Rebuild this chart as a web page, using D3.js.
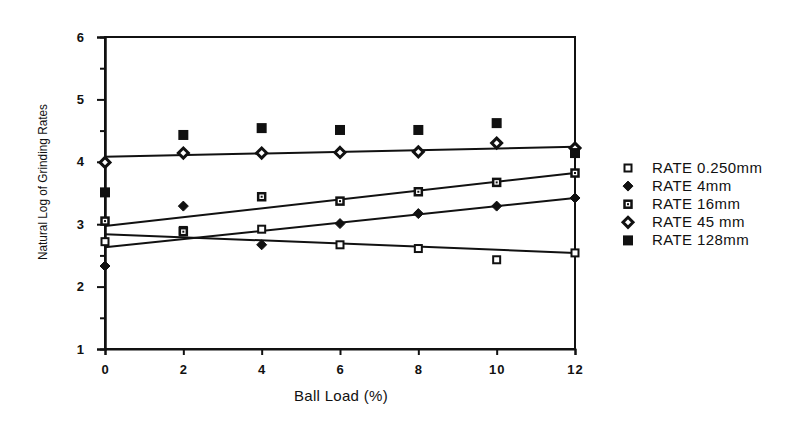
<!DOCTYPE html>
<html>
<head>
<meta charset="utf-8">
<script src="https://cdn.jsdelivr.net/npm/d3@7"></script>
<style>
  body { margin: 0; background: #fff; }
  svg { font-family: "Liberation Sans", Arial, sans-serif; }
  .tick text { font-weight: bold; font-size: 13px; fill: #111; }
</style>
</head>
<body>
<svg id="chart" width="795" height="423"></svg>
<script>
// ball load (%) at which rates were measured
const ballLoads = [0, 2, 4, 6, 8, 10, 12];

// natural log of grinding rates per size class
const rate025 = [2.72, 2.90, 2.92, 2.67, 2.61, 2.43, 2.54];
const rate4 = [2.33, 3.29, 2.67, 3.01, 3.17, 3.29, 3.42];
const rate16 = [3.05, 2.88, 3.44, 3.37, 3.52, 3.67, 3.82];
const rate45 = [3.99, 4.14, 4.14, 4.15, 4.16, 4.30, 4.22];
const rate128 = [3.51, 4.43, 4.54, 4.51, 4.51, 4.62, 4.14];

// fitted line values at ball load 0 and 12 (null = no line)
const fit025 = [2.84, 2.54];
const fit4 = [2.63, 3.42];
const fit16 = [2.97, 3.82];
const fit45 = [4.08, 4.24];
const fit128 = null;

const seriesNames = ['RATE 0.250mm', 'RATE 4mm', 'RATE 16mm', 'RATE 45 mm', 'RATE 128mm'];
const yTicks = [1, 2, 3, 4, 5, 6];
const yMinorTicks = [1.5, 2.5, 3.5, 4.5, 5.5];
const xTicks = [0, 2, 4, 6, 8, 10, 12];

const series = [
  { name: seriesNames[0], values: rate025, fit: fit025, marker: 'openSquare' },
  { name: seriesNames[1], values: rate4, fit: fit4, marker: 'filledDiamond' },
  { name: seriesNames[2], values: rate16, fit: fit16, marker: 'dotSquare' },
  { name: seriesNames[3], values: rate45, fit: fit45, marker: 'openDiamond' },
  { name: seriesNames[4], values: rate128, fit: fit128, marker: 'filledSquare' }
];

const svg = d3.select('#chart');

const plot = { left: 105, right: 575, top: 37, bottom: 349 };

const x = d3.scaleLinear().domain([0, 12]).range([plot.left, plot.right]);
const y = d3.scaleLinear().domain([1, 6]).range([plot.bottom, plot.top]);

const ink = '#111';

// frame
svg.append('rect')
  .attr('x', plot.left)
  .attr('y', plot.top)
  .attr('width', plot.right - plot.left)
  .attr('height', plot.bottom - plot.top)
  .attr('fill', 'none')
  .attr('stroke', ink)
  .attr('stroke-width', 2);

// y axis, major and minor ticks
svg.append('g')
  .attr('transform', `translate(${plot.left},0)`)
  .call(d3.axisLeft(y).tickValues(yTicks).tickSize(8).tickPadding(12).tickFormat(d3.format('d')));
svg.append('g')
  .attr('transform', `translate(${plot.left},0)`)
  .call(d3.axisLeft(y).tickValues(yMinorTicks).tickSize(5).tickFormat(''));

// x axis
svg.append('g')
  .attr('transform', `translate(0,${plot.bottom})`)
  .call(d3.axisBottom(x).tickValues(xTicks).tickSize(6).tickPadding(10).tickFormat(d3.format('d')));

svg.selectAll('.domain').attr('stroke', ink).attr('stroke-width', 2);
svg.selectAll('.tick line').attr('stroke', ink).attr('stroke-width', 2);
svg.selectAll('.tick text').attr('letter-spacing', 1);

// axis titles
svg.append('text')
  .attr('x', 341)
  .attr('y', 401)
  .attr('text-anchor', 'middle')
  .attr('font-size', 15)
  .attr('letter-spacing', 0.3)
  .attr('fill', ink)
  .text('Ball Load (%)');

svg.append('text')
  .attr('transform', 'translate(47,182) rotate(-90)')
  .attr('text-anchor', 'middle')
  .attr('font-size', 12)
  .attr('textLength', 156)
  .attr('lengthAdjust', 'spacingAndGlyphs')
  .attr('fill', ink)
  .text('Natural Log of Grinding Rates');

// draws one marker centred at (cx, cy)
function drawMarker(g, type, cx, cy) {
  if (type === 'openSquare' || type === 'dotSquare' || type === 'filledSquare') {
    const size = type === 'filledSquare' ? 8 : 7;
    g.append('rect')
      .attr('x', cx - size / 2)
      .attr('y', cy - size / 2)
      .attr('width', size)
      .attr('height', size)
      .attr('fill', type === 'filledSquare' ? ink : '#fff')
      .attr('stroke', ink)
      .attr('stroke-width', type === 'dotSquare' ? 2.5 : 2);
    if (type === 'dotSquare') {
      g.append('rect')
        .attr('x', cx - 1)
        .attr('y', cy - 1)
        .attr('width', 2)
        .attr('height', 2)
        .attr('fill', ink);
    }
  } else {
    const r = 5;
    g.append('path')
      .attr('d', `M${cx},${cy - r}L${cx + r},${cy}L${cx},${cy + r}L${cx - r},${cy}Z`)
      .attr('fill', type === 'filledDiamond' ? ink : '#fff')
      .attr('stroke', ink)
      .attr('stroke-width', type === 'filledDiamond' ? 1 : 3);
  }
}

// fit lines
series.forEach(s => {
  if (!s.fit) return;
  svg.append('line')
    .attr('x1', x(ballLoads[0]))
    .attr('y1', y(s.fit[0]))
    .attr('x2', x(ballLoads[ballLoads.length - 1]))
    .attr('y2', y(s.fit[1]))
    .attr('stroke', ink)
    .attr('stroke-width', 2);
});

// data points
const points = svg.append('g');
series.forEach(s => {
  s.values.forEach((v, i) => drawMarker(points, s.marker, x(ballLoads[i]), y(v)));
});

// legend
const legend = svg.append('g');
series.forEach((s, i) => {
  const ly = 168 + 18.1 * i;
  drawMarker(legend, s.marker, 628, ly);
  legend.append('text')
    .attr('x', 652)
    .attr('y', ly + 5)
    .attr('font-size', 15)
    .attr('letter-spacing', 0.4)
    .attr('fill', ink)
    .text(s.name);
});
</script>
</body>
</html>
